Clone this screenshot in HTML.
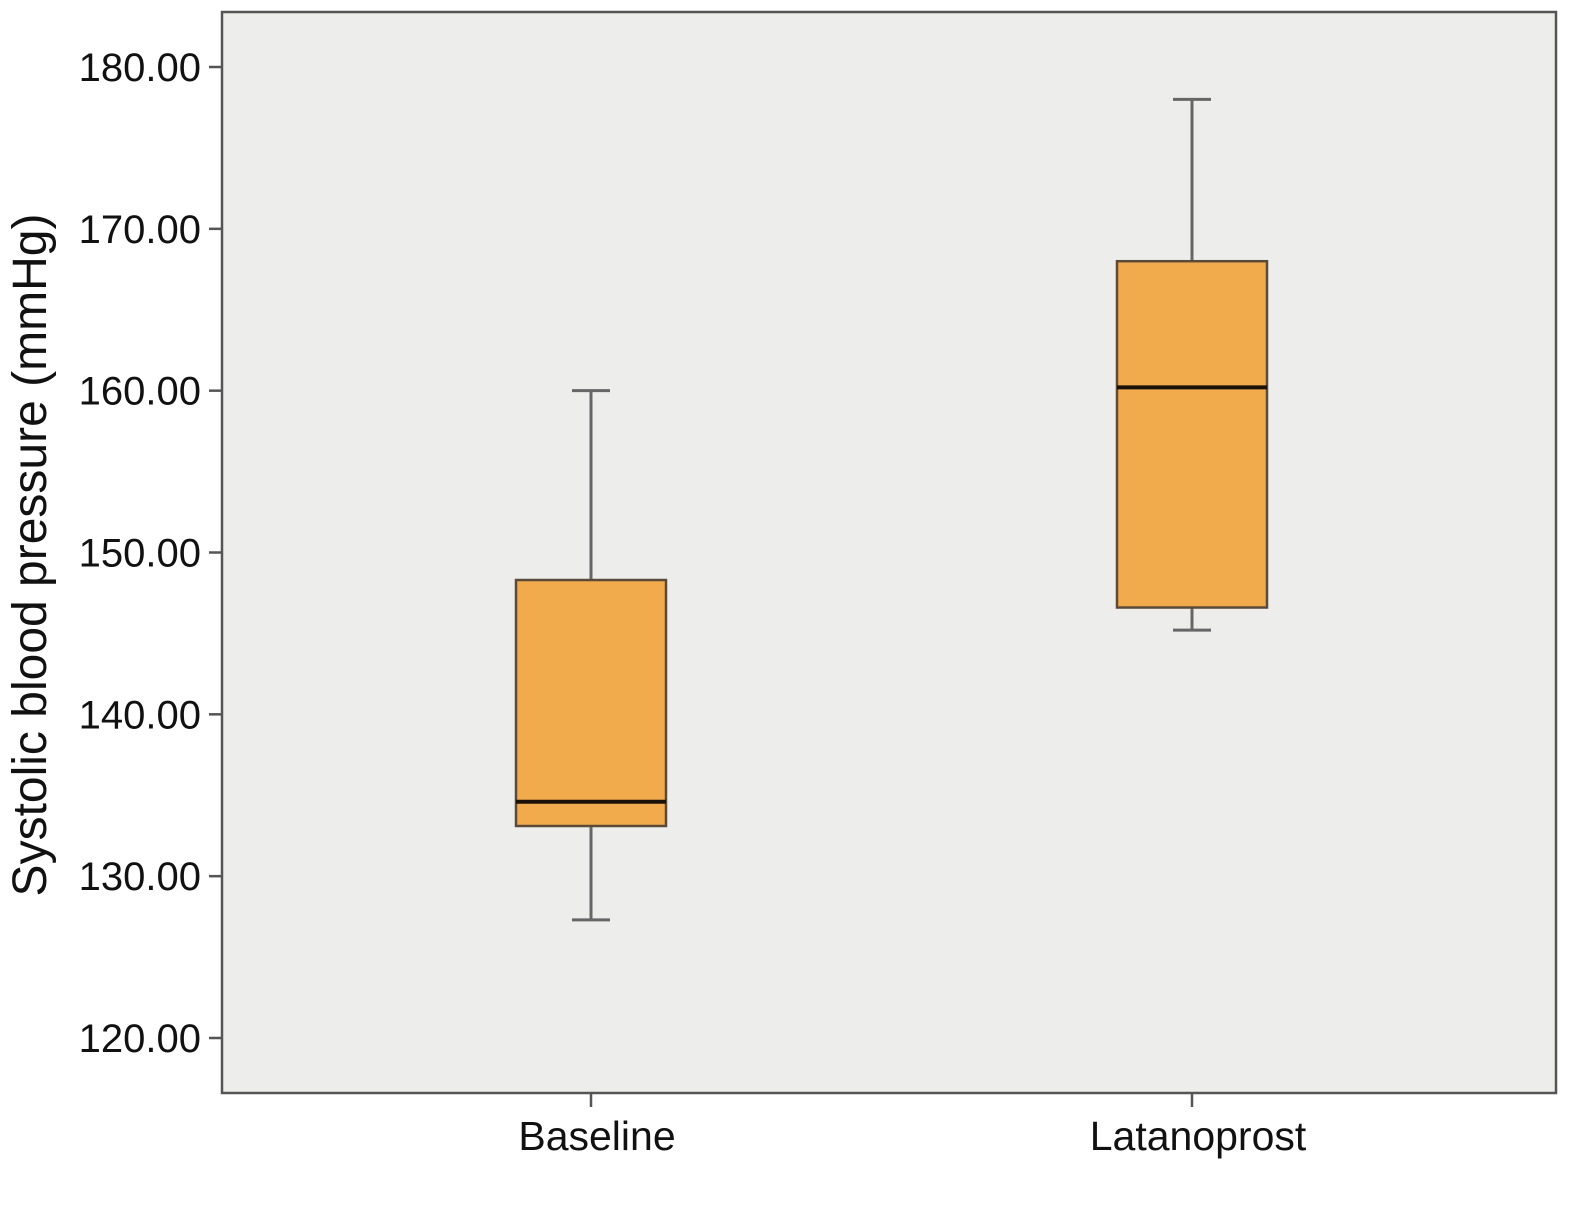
<!DOCTYPE html>
<html><head><meta charset="utf-8"><style>
body{margin:0;background:#fff;}
svg text{font-family:"Liberation Sans",Arial,sans-serif;fill:#111;}
</style></head><body>
<svg id="chart" width="1570" height="1209" xmlns="http://www.w3.org/2000/svg">
<rect x="222" y="12" width="1334" height="1081" fill="#ededeb" stroke="#555" stroke-width="2.5"/>
<g id="yaxis"></g>
<g id="xaxis"></g>
<g id="boxes"></g>
<text transform="translate(46,555) rotate(-90)" text-anchor="middle" font-size="48">Systolic blood pressure (mmHg)</text>
</svg>
<script>
const categories = ["Baseline", "Latanoprost"];
const mins = [127.3, 145.2];
const q1s = [133.1, 146.6];
const medians = [134.6, 160.2];
const q3s = [148.3, 168.0];
const maxs = [160.0, 178.0];
const yTicks = [120, 130, 140, 150, 160, 170, 180];
const yTickLabels = ["120.00","130.00","140.00","150.00","160.00","170.00","180.00"];

const NS = "http://www.w3.org/2000/svg";
function y(v){ return 67 + (180 - v) * (1038 - 67) / 60; }
function x(i){ return 591 + i * 601; }
function mk(tag, attrs, parent){ const e=document.createElementNS(NS,tag); for(const k in attrs) e.setAttribute(k,attrs[k]); parent.appendChild(e); return e; }

const ya=document.getElementById('yaxis');
yTicks.forEach((t,i)=>{
  const l=mk('line',{x1:209,x2:222,y1:y(t),y2:y(t),stroke:'#555','stroke-width':2.5},ya);
  
  
  const tx=mk('text',{x:201,y:y(t)+14,'text-anchor':'end','font-size':40},ya);
  tx.textContent=yTickLabels[i];
  
  
});
const xa=document.getElementById('xaxis');
const bx=document.getElementById('boxes');
categories.forEach((c,i)=>{
  const cx=x(i);
  const l=mk('line',{x1:cx,x2:cx,y1:1093,y2:1107,stroke:'#555','stroke-width':2.5},xa);
  
  
  const tx=mk('text',{x:cx+6,y:1150,'text-anchor':'middle','font-size':41},xa);
  tx.textContent=c;
  
  
  const g=mk('g',{},bx);
  
  
  mk('line',{x1:cx,x2:cx,y1:y(maxs[i]),y2:y(q3s[i]),stroke:'#666','stroke-width':3},g);
  mk('line',{x1:cx,x2:cx,y1:y(q1s[i]),y2:y(mins[i]),stroke:'#666','stroke-width':3},g);
  mk('line',{x1:cx-19,x2:cx+19,y1:y(maxs[i]),y2:y(maxs[i]),stroke:'#666','stroke-width':3},g);
  mk('line',{x1:cx-19,x2:cx+19,y1:y(mins[i]),y2:y(mins[i]),stroke:'#666','stroke-width':3},g);
  mk('rect',{x:cx-75,y:y(q3s[i]),width:150,height:y(q1s[i])-y(q3s[i]),fill:'#f2ab4c',stroke:'#5a4a3a','stroke-width':2.5},g);
  mk('line',{x1:cx-75,x2:cx+75,y1:y(medians[i]),y2:y(medians[i]),stroke:'#1a1208','stroke-width':4},g);
});
</script>
</body></html>
